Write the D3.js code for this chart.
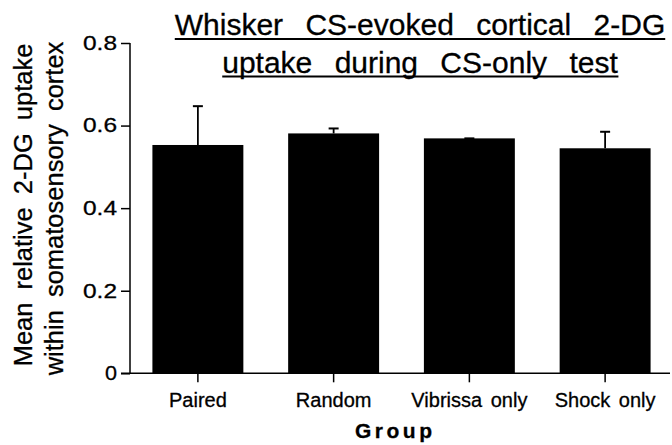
<!DOCTYPE html>
<html>
<head>
<meta charset="utf-8">
<script src="https://cdn.jsdelivr.net/npm/d3@7"></script>
<style>
  body { margin: 0; background: #fff; }
  svg { display: block; }
  text { font-family: "Liberation Sans", Arial, sans-serif; fill: #000; stroke: #000; stroke-width: 0.3; }
</style>
</head>
<body>
<div id="chart"></div>
<script>
// data
var groups = ["Paired", "Random", "Vibrissa only", "Shock only"];
var means = [0.553, 0.581, 0.569, 0.545];
var errs = [0.094, 0.012, 0.0, 0.040];
var yTicks = [0, 0.2, 0.4, 0.6, 0.8];
var titleLines = ["Whisker CS-evoked cortical 2-DG", "uptake during CS-only test"];
var yLabelLines = ["Mean relative 2-DG uptake", "within somatosensory cortex"];
var xLabel = "Group";

var width = 672, height = 445;

var svg = d3.select("#chart").append("svg")
  .attr("width", width)
  .attr("height", height);

// layout
var x0 = 130, x1 = 670, yBottom = 373.3, yTop = 43;

var y = d3.scaleLinear().domain([0, 0.8]).range([yBottom, yTop]);
var x = d3.scaleBand().domain(groups).range([131.5, 671.5])
  .paddingInner(0.33).paddingOuter(0.154);

//bars
svg.selectAll(".bar").data(groups).enter().append("rect")
  .attr("class", "bar")
  .attr("x", function(d) { return x(d); })
  .attr("width", x.bandwidth())
  .attr("y", function(d, i) { return y(means[i]); })
  .attr("height", function(d, i) { return yBottom - y(means[i]); })
  .attr("fill", "#000");

//error bars (upper only)
var eb = svg.selectAll(".err").data(groups).enter().append("g").attr("class", "err");
eb.append("line")
  .attr("x1", function(d) { return x(d) + x.bandwidth() / 2; })
  .attr("x2", function(d) { return x(d) + x.bandwidth() / 2; })
  .attr("y1", function(d, i) { return y(means[i]); })
  .attr("y2", function(d, i) { return y(means[i] + errs[i]); })
  .attr("stroke", "#000").attr("stroke-width", 1.8);
eb.append("line")
  .attr("x1", function(d) { return x(d) + x.bandwidth() / 2 - 5; })
  .attr("x2", function(d) { return x(d) + x.bandwidth() / 2 + 5; })
  .attr("y1", function(d, i) { return y(means[i] + errs[i]); })
  .attr("y2", function(d, i) { return y(means[i] + errs[i]); })
  .attr("stroke", "#000").attr("stroke-width", 2);

// y axis
var yAxis = svg.append("g").attr("transform", "translate(" + x0 + ",0)")
  .call(d3.axisLeft(y).tickValues(yTicks).tickSize(9).tickPadding(3)
    .tickFormat(function(d) { return d === 0 ? "0" : d3.format(".1f")(d); }));
yAxis.select(".domain").remove();
yAxis.append("line").attr("x1", 0).attr("x2", 0).attr("y1", yTop).attr("y2", yBottom)
  .attr("stroke", "#000").attr("stroke-width", 1.5);
yAxis.selectAll(".tick line").attr("stroke", "#000").attr("stroke-width", 1.5);
yAxis.selectAll(".tick text")
  .attr("font-size", 20)
  .attr("x", -13)
  .attr("textLength", function(d) { return d === 0 ? 12 : 34; })
  .attr("lengthAdjust", "spacingAndGlyphs")
  .style("font-family", "'Liberation Sans', Arial, sans-serif")
  .attr("fill", "#000");

// x axis
var xAxis = svg.append("g").attr("transform", "translate(0," + yBottom + ")")
  .call(d3.axisBottom(x).tickSize(9).tickPadding(8));
xAxis.select(".domain").remove();
xAxis.append("line").attr("x1", x0 - 9).attr("x2", x1).attr("y1", 0).attr("y2", 0)
  .attr("stroke", "#000").attr("stroke-width", 1.5);
xAxis.selectAll(".tick line").attr("stroke", "#000").attr("stroke-width", 1.5);
xAxis.selectAll(".tick text")
  .attr("font-size", 20)
  .attr("word-spacing", 3)
  .attr("dy", 0)
  .attr("y", 33.4)
  .style("font-family", "'Liberation Sans', Arial, sans-serif")
  .attr("fill", "#000");

// x label
svg.append("text")
  .attr("x", 393.5).attr("y", 438)
  .attr("text-anchor", "middle")
  .attr("font-size", 21)
  .attr("font-weight", "bold")
  .attr("textLength", 77)
  .attr("lengthAdjust", "spacing")
  .text(xLabel);

// y label, two rotated lines
var yLabX = [32, 63], yLabC = [205, 208.5];
yLabelLines.forEach(function(t, i) {
  svg.append("text")
    .attr("transform", "translate(" + yLabX[i] + "," + yLabC[i] + ") rotate(-90)")
    .attr("text-anchor", "middle")
    .attr("font-size", 25.5)
    .attr("word-spacing", 6)
    .text(t);
});

//title, underlined
var titleY = [35, 72.5];
titleLines.forEach(function(t, i) {
  var tt = svg.append("text")
    .attr("x", 420).attr("y", titleY[i])
    .attr("text-anchor", "middle")
    .attr("font-size", 30)
    .attr("word-spacing", 14)
    .text(t);
  var bb = tt.node().getBBox();
  svg.append("line")
    .attr("x1", bb.x).attr("x2", bb.x + bb.width)
    .attr("y1", titleY[i] + 4).attr("y2", titleY[i] + 4)
    .attr("stroke", "#000").attr("stroke-width", 1.8);
});
</script>
</body>
</html>
